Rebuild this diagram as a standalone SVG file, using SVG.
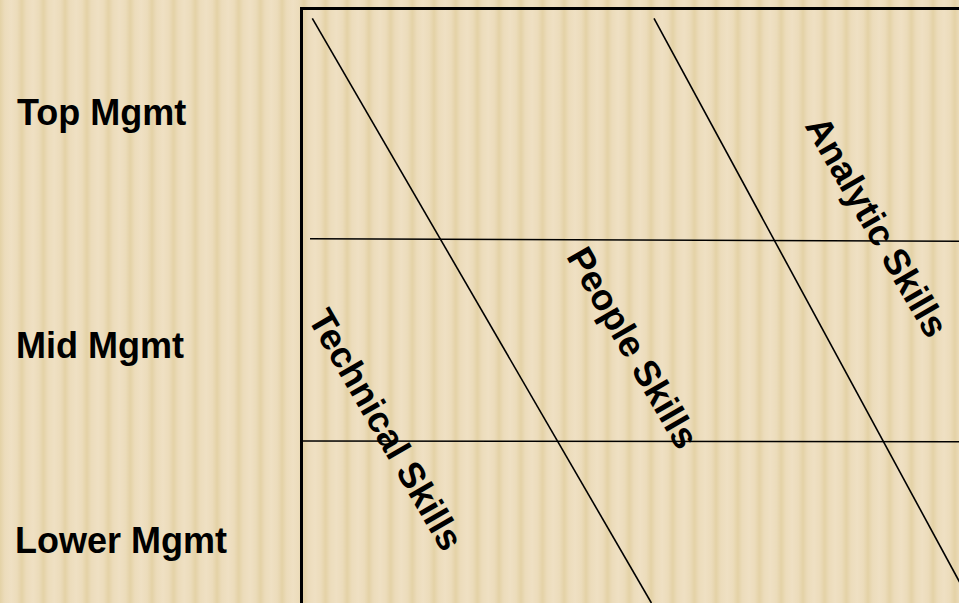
<svg xmlns="http://www.w3.org/2000/svg" width="959" height="603" viewBox="0 0 959 603">
<defs>
<linearGradient id="sg" x1="0" y1="0" x2="1" y2="0">
<stop offset="0" stop-color="#E4D2A6"/>
<stop offset="0.22" stop-color="#ECDCBB"/>
<stop offset="0.5" stop-color="#EFE0C3"/>
<stop offset="0.78" stop-color="#ECDCBB"/>
<stop offset="1" stop-color="#E4D2A6"/>
</linearGradient>
<pattern id="stripes" x="0" y="0" width="21.7" height="603" patternUnits="userSpaceOnUse">
<rect x="0" y="0" width="21.7" height="603" fill="url(#sg)"/>
</pattern>
<style>
.lbl{font-family:"Liberation Sans",Arial,sans-serif;font-weight:bold;font-size:36px;fill:#000}
.rot{font-size:36.5px}
.ln{stroke:#000;stroke-width:1.6;fill:none}
</style>
</defs>
<rect x="0" y="0" width="959" height="603" fill="url(#stripes)"/>
<g id="frame">
<rect x="301.5" y="8.5" width="700" height="700" fill="none" stroke="#000" stroke-width="3"/>
</g>
<g id="connectors">
<line class="ln" x1="312.3" y1="18.3" x2="651.4" y2="603"/>
<line class="ln" x1="654" y1="18.3" x2="972" y2="605"/>
<line class="ln" x1="310" y1="238.8" x2="959" y2="241.3"/>
<line class="ln" x1="302" y1="441" x2="959" y2="441.7"/>
</g>
<g id="top-mgmt"><text class="lbl" x="17" y="124.5">Top Mgmt</text></g>
<g id="mid-mgmt"><text class="lbl" x="16" y="357.5">Mid Mgmt</text></g>
<g id="lower-mgmt"><text class="lbl" x="15" y="552.5">Lower Mgmt</text></g>
<g id="technical-skills"><text class="lbl rot" text-anchor="middle" transform="translate(375,436) rotate(60)">Technical Skills</text></g>
<g id="people-skills"><text class="lbl rot" text-anchor="middle" transform="translate(622,354) rotate(60)">People Skills</text></g>
<g id="analytic-skills"><text class="lbl rot" text-anchor="middle" transform="translate(866,233) rotate(60)">Analytic Skills</text></g>
</svg>
